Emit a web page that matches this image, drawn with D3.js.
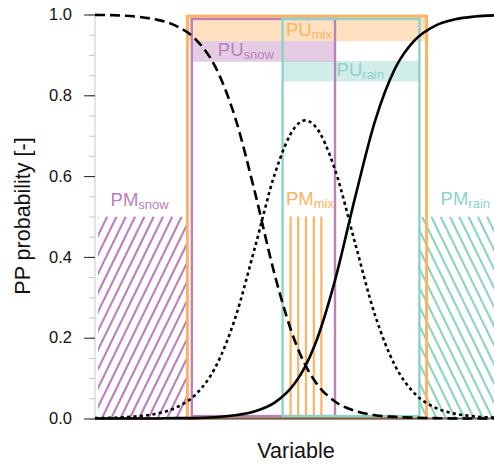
<!DOCTYPE html>
<html><head><meta charset="utf-8">
<script src="https://cdn.jsdelivr.net/npm/d3@7"></script>
<style>
html,body{margin:0;padding:0;background:#fff;}
svg{display:block;font-family:"Liberation Sans",Arial,Helvetica,sans-serif;}
</style></head>
<body><svg id="c" width="494" height="464"></svg>
<script>
// ---- data ----
const xs     = [0,5,10,15,20,25,30,35,40,45,50,52.5,55,60,65,70,75,80,85,90,95,100];
const pSnow  = [0.999,0.998,0.995,0.988,0.973,0.940,0.872,0.746,0.559,0.353,0.191,0.134,0.092,0.042,0.019,0.008,0.004,0.002,0.001,0.000,0.000,0.000];
const pMix   = [0.001,0.002,0.005,0.011,0.026,0.058,0.125,0.247,0.424,0.607,0.721,0.738,0.724,0.616,0.435,0.256,0.131,0.061,0.027,0.012,0.005,0.002];
const pRain  = [0.000,0.000,0.000,0.000,0.001,0.001,0.003,0.008,0.018,0.040,0.088,0.128,0.183,0.342,0.546,0.736,0.866,0.937,0.972,0.988,0.995,0.998];
const yTicks = [0,0.2,0.4,0.6,0.8,1.0];
const yMinor = d3.range(0,1.0001,0.05);
// uncertainty boxes: [x0, x1, y0, y1, bandLow, bandHigh]
const puNames  = ["mix","snow","rain"];
const puBoxes  = [[23.1,82.9,0,0.996,0.934,0.996],[24.2,60.0,0.006,0.989,0.883,0.934],[46.9,81.1,0.006,0.989,0.834,0.885]];
// membership regions
const pmSnow   = [0.75,23.0,0,0.5];
const pmRain   = [80.8,100,0,0.5];
const pmMixX   = [48.9,50.8,52.75,54.7,56.6];
const pmMixTop = 0.5;

// ---- layout ----
const svg = d3.select("#c");
const x = d3.scaleLinear().domain([0,100]).range([95,495]);
const y = d3.scaleLinear().domain([0,1]).range([418.5,14.5]);
const col = {mix:"#FDB462", snow:"#BC80BD", rain:"#8DD3C7"};
const font = '"Liberation Sans",Arial,Helvetica,sans-serif';

// hatch helper
function hatch(id, r, color, dir){
  const x0=x(r[0]), x1=x(r[1]), y0=y(r[3]), y1=y(r[2]);
  svg.append("clipPath").attr("id",id).append("rect")
    .attr("x",x0).attr("y",y0).attr("width",x1-x0).attr("height",y1-y0);
  const g = svg.append("g").attr("clip-path",`url(#${id})`);
  const h = y1-y0, slope = 2.05, dx = h/slope, sp = 9.3;
  for(let s = x0 - dx - sp; s < x1 + dx + sp; s += sp){
    if(dir>0) g.append("line").attr("x1",s).attr("y1",y1).attr("x2",s+dx).attr("y2",y0);
    else g.append("line").attr("x1",s).attr("y1",y0).attr("x2",s+dx).attr("y2",y1);
  }
  g.selectAll("line").attr("stroke",color).attr("stroke-width",2.1);
}
hatch("hs", pmSnow, col.snow, 1);
hatch("hr", pmRain, col.rain, -1);

// mix membership lines
svg.append("g").selectAll("line").data(pmMixX).join("line")
  .attr("x1",d=>x(d)).attr("x2",d=>x(d)).attr("y1",y(0)).attr("y2",y(pmMixTop))
  .attr("stroke",col.mix).attr("stroke-width",2.2);

// bands
puBoxes.forEach((b,i)=>{
  svg.append("rect").attr("x",x(b[0])).attr("width",x(b[1])-x(b[0]))
    .attr("y",y(b[5])).attr("height",y(b[4])-y(b[5]))
    .attr("fill",col[puNames[i]]).attr("fill-opacity",0.4);
});
// boxes
puBoxes.forEach((b,i)=>{
  svg.append("rect").attr("x",x(b[0])).attr("width",x(b[1])-x(b[0]))
    .attr("y",y(b[3])).attr("height",y(b[2])-y(b[3]))
    .attr("fill","none").attr("stroke",col[puNames[i]]).attr("stroke-width",i===0?3:2.4);
});

// axes
const ax = svg.append("g").attr("transform",`translate(${x(0)},0)`);
ax.call(d3.axisLeft(y).tickValues(yMinor).tickSize(6).tickFormat(""))
  .call(g=>g.select(".domain").remove())
  .call(g=>g.selectAll("line").attr("stroke","#c8c8c8"));
svg.append("line").attr("x1",x(0)).attr("x2",x(0)).attr("y1",y(1)).attr("y2",y(0))
  .attr("stroke","#d0d0d0").attr("stroke-width",1.2);
const ax2 = svg.append("g").attr("transform",`translate(${x(0)},0)`);
ax2.call(d3.axisLeft(y).tickValues(yTicks).tickSize(11).tickPadding(12).tickFormat(d3.format(".1f")))
  .call(g=>g.select(".domain").remove())
  .call(g=>g.selectAll("line").attr("stroke","#222"))
  .call(g=>g.selectAll("text").attr("font-size",16.5).attr("font-family",font).attr("fill","#111"));
svg.append("line").attr("x1",x(0)).attr("x2",494).attr("y1",y(0)).attr("y2",y(0))
  .attr("stroke","#666").attr("stroke-width",2);

// curves
const line = d3.line().x(d=>x(d[0])).y(d=>y(d[1])).curve(d3.curveMonotoneX);
const series = [[pSnow,"10,5"],[pMix,"3.2,3.2"],[pRain,null]];
series.forEach(([vals,dash])=>{
  svg.append("path").datum(xs.map((v,i)=>[v,vals[i]])).attr("d",line)
    .attr("fill","none").attr("stroke","#000").attr("stroke-width",2.6)
    .attr("stroke-dasharray",dash);
});

// labels
const labels = [
  ["PU","snow",30.7,0.897,col.snow],
  ["PU","mix",47.75,0.948,col.mix],
  ["PU","rain",60.4,0.849,col.rain],
  ["PM","snow",3.9,0.526,col.snow],
  ["PM","mix",47.75,0.528,col.mix],
  ["PM","rain",86.4,0.528,col.rain]
];
labels.forEach(([m,s,lx,ly,c])=>{
  const t = svg.append("text").attr("x",x(lx)).attr("y",y(ly)).attr("fill",c)
    .attr("font-family",font).attr("font-size",18.5);
  t.append("tspan").text(m);
  t.append("tspan").attr("font-size",13).attr("dy",3).text(s);
});

// axis titles
svg.append("text").attr("x",296).attr("y",458).attr("text-anchor","middle")
  .attr("font-family",font).attr("font-size",21.5).attr("fill","#111").text("Variable");
svg.append("text").attr("transform","translate(29.5,216) rotate(-90)").attr("text-anchor","middle")
  .attr("font-family",font).attr("font-size",21.5).attr("fill","#111").text("PP probability [-]");
</script></body></html>
